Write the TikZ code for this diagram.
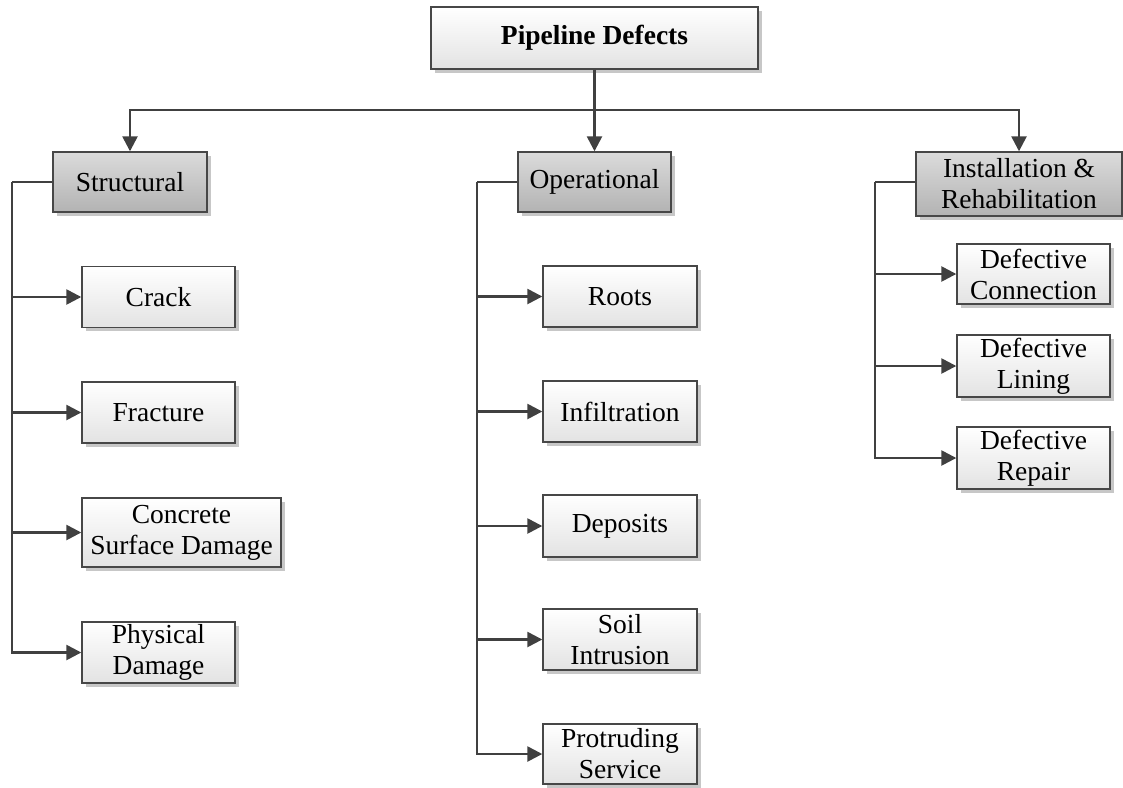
\documentclass[tikz,border=0pt]{standalone}
\usepackage{fontspec}
\setmainfont{Liberation Serif}
\usetikzlibrary{arrows.meta,shadows}
\begin{document}
\begin{tikzpicture}[x=1pt,y=1pt,
  box/.style={rectangle, draw=black!72, line width=1.4pt, align=center,
    inner sep=0pt, font=\fontsize{27.5}{31}\selectfont,
    top color=white, bottom color=black!11,
    minimum width=153pt, minimum height=61pt,
    drop shadow={shadow xshift=3.5pt, shadow yshift=-3.5pt, fill=black!22, opacity=1}},
  cat/.style={box, top color=black!14, bottom color=black!30},
  conn/.style={draw=black!75, line width=2.5pt},
  arr/.style={conn, -{Triangle[length=15pt,width=15pt]}},
]
\useasboundingbox (0,0) rectangle (1123,-787);

% root
\node[box, minimum width=327pt, minimum height=62pt, font=\fontsize{27.5}{31}\selectfont\bfseries]
  (root) at (594.5,-38) {Pipeline Defects};

% categories
\node[cat, minimum width=154pt, minimum height=60pt] (struct) at (130,-182) {Structural};
\node[cat, minimum width=153pt, minimum height=60pt] (oper) at (594.5,-182) {Operational};
\node[cat, minimum width=206pt, minimum height=64pt] (inst) at (1019,-184) {Installation \&\\Rehabilitation};

% structural defects
\node[box] (crack) at (158.5,-297) {Crack};
\node[box] (fract) at (158.5,-412.5) {Fracture};
\node[box, minimum width=199pt, minimum height=69pt] (concr) at (181.5,-532.5) {Concrete\\Surface Damage};
\node[box] (phys) at (158.5,-652.5) {Physical\\Damage};

% operational defects
\node[box, minimum width=154pt] (roots) at (620,-296.5) {Roots};
\node[box, minimum width=154pt] (infil) at (620,-411.5) {Infiltration};
\node[box, minimum width=154pt, minimum height=62pt] (depos) at (620,-526) {Deposits};
\node[box, minimum width=154pt] (soil) at (620,-639.5) {Soil\\Intrusion};
\node[box, minimum width=154pt, minimum height=60pt] (protr) at (620,-754) {Protruding\\Service};

% installation & rehabilitation defects
\node[box, minimum height=60pt] (dconn) at (1033.5,-274) {Defective\\Connection};
\node[box, minimum height=62pt] (dlin) at (1033.5,-366) {Defective\\Lining};
\node[box, minimum height=62pt] (drep) at (1033.5,-458) {Defective\\Repair};

% top-level distribution bus
\coordinate (bus) at (0,-110);
\coordinate (bl) at (struct.north |- bus);
\coordinate (br) at (inst.north |- bus);
\draw[conn] (root.south) -- (root.south |- bus);
\draw[conn, line cap=rect] (bl) -- (br);
\draw[arr] (bl) -- (struct.north);
\draw[arr] (oper.north |- bus) -- (oper.north);
\draw[arr] (br) -- (inst.north);

% branch spines
\coordinate (sx) at (12,-182);
\coordinate (ox) at (477,-182);
\coordinate (ix) at (875,-182);
\draw[conn] (struct.west) -- (sx);
\draw[conn] (oper.west) -- (ox);
\draw[conn] (inst.west |- ix) -- (ix);

\foreach \c in {crack,fract,concr,phys} \draw[arr] (sx) |- (\c.west);
\foreach \c in {roots,infil,depos,soil,protr} \draw[arr] (ox) |- (\c.west);
\foreach \c in {dconn,dlin,drep} \draw[arr] (ix) |- (\c.west);
\end{tikzpicture}
\end{document}
